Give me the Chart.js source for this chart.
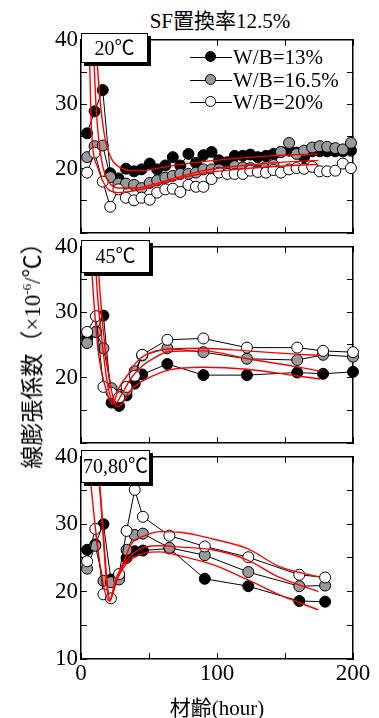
<!DOCTYPE html>
<html>
<head>
<meta charset="utf-8">
<script src="https://cdn.jsdelivr.net/npm/chart.js@4.4.1/dist/chart.umd.min.js"></script>
<style>
  body { margin: 0; background: #fff; }
  #wrap { position: relative; width: 379px; height: 718px; overflow: hidden;
    font-family: "Liberation Serif", "Noto Sans CJK JP", serif; color: #000; }
  canvas { position: absolute; left: 0; }
  .tag { position: absolute; left: 81px; width: 67px; background: #fff; border: 1px solid #000;
    box-shadow: 3px 3px 0 #000; font-size: 20px; text-align: center; box-sizing: border-box; z-index: 5; }
  .leg { position: absolute; left: 190px; height: 22px; font-size: 21px; line-height: 22px; white-space: nowrap; z-index: 5; }
  .leg i { position: absolute; left: 0; top: 11px; width: 42px; border-top: 1px solid #000; }
  .leg b { position: absolute; left: 15px; top: 5px; width: 11px; height: 11px; border: 1px solid #000;
    border-radius: 50%; box-sizing: border-box; }
  .leg span { position: absolute; left: 43px; top: 0; }
  .title { position: absolute; top: 4px; left: 120px; width: 200px; text-align: center; font-size: 21px; }
  .xlab { position: absolute; top: 691px; left: 117px; width: 200px; text-align: center; font-size: 21px; }
  .ylab { position: absolute; left: 30px; top: 350px; transform: translate(-50%, -50%) rotate(-90deg);
    font-size: 23px; white-space: nowrap; }
  .ylab sup { font-size: 13px; }
</style>
</head>
<body>
<div id="wrap">
  <div class="title">SF置換率12.5%</div>
  <canvas id="p1" width="379" height="239" style="top:17px"></canvas>
  <canvas id="p2" width="379" height="242" style="top:224px"></canvas>
  <canvas id="p3" width="379" height="265" style="top:434px"></canvas>
  <div class="tag" style="top:33px;height:30px;line-height:28px">20℃</div>
  <div class="tag" style="top:240px;height:33px;width:69px;line-height:31px">45℃</div>
  <div class="tag" style="top:450px;height:33px;width:69px;line-height:31px">70,80℃</div>
  <div class="leg" style="top:46px"><i></i><b style="background:#000"></b><span>W/B=13%</span></div>
  <div class="leg" style="top:69px"><i></i><b style="background:#999"></b><span>W/B=16.5%</span></div>
  <div class="leg" style="top:91px"><i></i><b style="background:#fff"></b><span>W/B=20%</span></div>
  <div class="ylab">線膨張係数（×10<sup>-6</sup>/℃）</div>
  <div class="xlab">材齢(hour)</div>
</div>
<script>
// ---- 20℃ ----
const hours20 = [4.5, 10, 16, 21.5, 27.5, 33, 39, 44.5, 50.5, 56, 62, 67.5, 73, 79, 84.5, 90, 96, 101.5,
  107.5, 113, 119, 124.5, 130, 136, 141.5, 147, 153, 158.5, 164, 170, 175.5, 181, 187, 192.5, 198.5];
const wb13_20 = [25.5, 28.9, 32.2, 19.3, 18.5, 20.0, 19.6, 19.9, 20.8, 19.9, 20.5, 21.8, 20.5, 22.3, 20.9, 22.1, 22.6, 21.3,
  21.0, 22.0, 22.0, 22.2, 21.8, 22.0, 22.3, 22.6, 22.8, 22.5, 21.8, 22.7, 22.7, 22.7, 22.7, 22.7, 22.8];
const wb165_20 = [21.8, 23.5, 23.6, 18.7, 17.7, 17.7, 17.5, 17.0, 17.8, 18.2, 18.6, 18.9, 19.2, 19.2, 19.4, 19.9, 19.9, 19.9,
  19.6, 20.4, 20.2, 20.1, 19.7, 20.3, 20.6, 22.6, 24.0, 22.3, 22.8, 23.3, 23.5, 23.4, 23.2, 23.0, 24.0];
const wb20_20 = [19.4, 22.5, 18.0, 14.1, 16.8, 15.5, 15.1, 15.5, 15.2, 16.3, 16.8, 16.9, 16.4, 17.5, 17.2, 17.2, 18.4, 19.4,
  19.2, 19.2, 19.2, 19.7, 19.5, 19.4, 19.8, 19.4, 19.9, 20.1, 20.0, 20.3, 19.6, 19.6, 19.7, 20.8, 20.1];
// fitted curves
const fit13_20x = [10, 12, 13.7, 17.4, 22.3, 29.6, 37, 46.8, 56.6, 71.3, 90, 114.5, 139, 174.5];
const fit13_20y = [40, 36.1, 31.3, 25.0, 21.6, 20.1, 19.7, 19.7, 20.1, 20.6, 21.1, 21.6, 22.0, 22.3];
const fit165_20x = [8, 9.6, 11.3, 14.9, 21.1, 29.6, 39.5, 51.7, 71.3, 90, 114.5, 139, 174.5];
const fit165_20y = [40, 36.1, 28.8, 21.6, 17.7, 17.0, 17.0, 17.5, 18.7, 19.7, 20.4, 20.9, 21.3];
const fit20_20x = [5, 6.4, 7.6, 12.5, 19.9, 27.2, 37, 51.7, 71.3, 90, 114.5, 139, 174.5];
const fit20_20y = [40, 36.1, 26.4, 20.1, 16.8, 16.3, 16.5, 17.2, 18.4, 19.3, 19.9, 20.3, 20.7];

// ---- 45℃ ----
const hours45 = [4.5, 11, 16.5, 22.5, 28, 33.5, 39.5, 45, 63.5, 90, 122, 159, 178, 200];
const wb13_45 = [26.0, 27.0, 29.5, 16.2, 15.7, 17.3, 19.1, 20.5, 22.1, 20.4, 20.4, 20.8, 20.6, 20.9];
const wb165_45 = [25.3, 27.0, 24.5, 18.4, 17.4, 18.0, 21.0, 23.4, 24.5, 23.9, 22.9, 22.7, 23.5, 23.2];
const wb20_45 = [27.0, 29.4, 18.6, 17.7, 17.0, 18.6, 20.3, 23.5, 25.8, 26.0, 24.6, 24.6, 24.1, 23.9];
const fit13_45x = [12, 14, 18, 22, 26, 30, 35, 42, 52, 65, 90, 122, 158, 176];
const fit13_45y = [40, 33, 24, 18.5, 15.6, 16.0, 17.7, 19.1, 20.2, 21.2, 21.6, 21.3, 20.3, 19.8];
const fit165_45x = [10, 12, 16, 20, 25, 30, 37, 45, 52, 65, 90, 122, 158, 176];
const fit165_45y = [40, 33, 24.5, 18.5, 16.0, 17.5, 20.0, 21.8, 22.8, 24.0, 24.1, 22.9, 21.7, 21.0];
const fit20_45x = [7, 9, 13, 18, 23, 28, 34.6, 40, 46.8, 64, 90, 122, 158, 176];
const fit20_45y = [40, 33, 23.5, 18.5, 16.0, 18.5, 20.5, 22.2, 23.4, 24.4, 24.5, 24.1, 23.6, 23.4];

// ---- 70,80℃ ----
const hours70 = [4.5, 10.5, 16.5, 22, 28, 33.5, 39.5, 45.5, 65, 91, 123, 160.5, 179.5];
const wb13_70 = [26.2, 27.0, 30.0, 21.8, 22.3, 25.0, 26.0, 26.1, 26.4, 21.9, 20.8, 18.6, 18.5];
const wb165_70 = [23.4, 26.8, 21.6, 21.4, 21.8, 26.2, 28.4, 28.6, 26.5, 25.4, 22.9, 20.8, 20.9];
const wb20_70 = [24.5, 29.3, 19.6, 19.0, 22.6, 29.0, 35.1, 31.1, 28.3, 26.7, 25.1, 22.5, 22.1];
const fit13_70x = [12, 14, 21.5, 26, 31, 37, 47, 58, 73, 97, 122, 146, 174.5];
const fit13_70y = [40, 35.3, 18.8, 21.5, 23.5, 24.8, 25.7, 25.9, 25.3, 24.0, 21.8, 19.5, 17.3];
const fit165_70x = [11, 13.7, 21, 25, 30, 35, 47, 58, 73, 97, 122, 146, 174.5];
const fit165_70y = [40, 35.3, 18.6, 21.0, 23.5, 25.0, 26.6, 26.8, 26.6, 26.2, 24.7, 22.1, 20.0];
const fit20_70x = [6, 7.6, 21, 25, 32, 37, 47, 58, 73, 97, 122, 146, 174.5];
const fit20_70y = [40, 35.3, 18.6, 21.5, 24.7, 27.1, 28.3, 28.9, 28.8, 27.8, 26.4, 23.7, 22.2];

const xTicks = [0, 100, 200];
const yTicks = [10, 20, 30, 40];

const FONT = '"Liberation Serif", "Noto Sans CJK JP", serif';
const pts = (xs, ys) => xs.map((x, i) => ({ x, y: ys[i] }));

const marker = (xs, ys, fill, order) => ({
  data: pts(xs, ys),
  borderColor: '#000', borderWidth: 1,
  pointRadius: 5.5, pointBackgroundColor: fill, pointBorderColor: '#000', pointBorderWidth: 1,
  tension: 0, clip: false, order
});
const fit = (xs, ys) => ({
  data: pts(xs, ys),
  borderColor: '#ff0000', borderWidth: 1.4, pointRadius: 0,
  cubicInterpolationMode: 'monotone', order: 0
});

const edge = { display: true, color: '#000', width: 1.5 };
const inTicks = { drawOnChartArea: false, drawTicks: true, tickLength: -6, color: '#000', lineWidth: 1 };

function panel(id, sets, opts) {
  const bottomLabels = !!opts.xLabels;
  new Chart(document.getElementById(id), {
    type: 'line',
    data: { datasets: sets },
    options: {
      responsive: false, animation: false,
      layout: { padding: { top: 16, right: 26, left: 0, bottom: bottomLabels ? 0 : 16 } },
      plugins: { legend: { display: false }, tooltip: { enabled: false } },
      scales: {
        x: {
          type: 'linear', position: 'bottom', min: 0, max: 200,
          border: edge, grid: inTicks,
          ticks: {
            display: bottomLabels, stepSize: 50, padding: 7, maxRotation: 0,
            color: '#000', font: { family: FONT, size: 23 },
            callback: (v) => (xTicks.includes(v) ? String(v) : '')
          },
          afterFit: (s) => { s.height = bottomLabels ? 40 : 0; }
        },
        xTop: {
          type: 'linear', position: 'top', min: 0, max: 200,
          border: edge, grid: inTicks, ticks: { display: false, stepSize: 50 },
          afterFit: (s) => { s.height = 0; }
        },
        y: {
          type: 'linear', position: 'left', min: 10, max: 40,
          border: edge, grid: inTicks,
          ticks: {
            stepSize: 5, padding: 9, color: '#000', font: { family: FONT, size: 23 },
            callback: (v) => (yTicks.includes(v) && (v > 10 || opts.showTen) ? String(v) : '')
          },
          afterFit: (s) => { s.width = 81; }
        },
        yRight: {
          type: 'linear', position: 'right', min: 10, max: 40,
          border: edge, grid: inTicks, ticks: { display: false, stepSize: 5 },
          afterFit: (s) => { s.width = 0; }
        }
      }
    }
  });
}

panel('p1', [
  fit(fit13_20x, fit13_20y), fit(fit165_20x, fit165_20y), fit(fit20_20x, fit20_20y),
  marker(hours20, wb13_20, '#000', 3),
  marker(hours20, wb165_20, '#999', 2),
  marker(hours20, wb20_20, '#fff', 1)
], {});

panel('p2', [
  fit(fit13_45x, fit13_45y), fit(fit165_45x, fit165_45y), fit(fit20_45x, fit20_45y),
  marker(hours45, wb13_45, '#000', 3),
  marker(hours45, wb165_45, '#999', 2),
  marker(hours45, wb20_45, '#fff', 1)
], {});

panel('p3', [
  fit(fit13_70x, fit13_70y), fit(fit165_70x, fit165_70y), fit(fit20_70x, fit20_70y),
  marker(hours70, wb13_70, '#000', 3),
  marker(hours70, wb165_70, '#999', 2),
  marker(hours70, wb20_70, '#fff', 1)
], { xLabels: true, showTen: true });
</script>
</body>
</html>
